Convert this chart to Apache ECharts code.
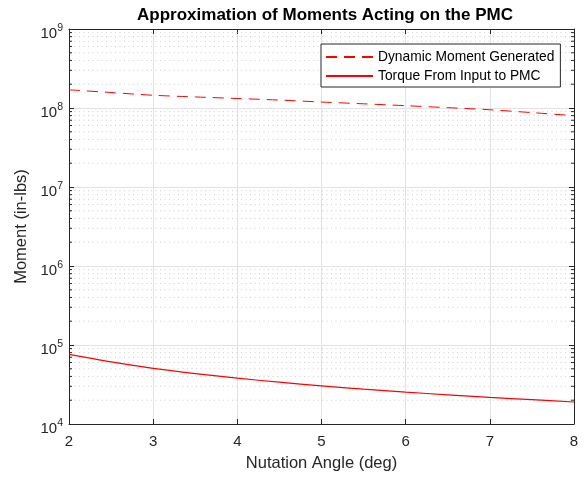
<!DOCTYPE html>
<html>
<head>
<meta charset="utf-8">
<script src="https://cdn.jsdelivr.net/npm/echarts@6/dist/echarts.min.js"></script>
<style>html,body{margin:0;padding:0;background:#fff}#c{width:587px;height:477px}</style>
</head>
<body>
<div id="c"></div>
<script>
var nutationAngle = [2, 2.5, 3, 3.5, 4, 4.5, 5, 5.5, 6, 6.5, 7, 7.5, 8];
var dynamicMoment = [1.70e8, 1.57e8, 1.45e8, 1.38e8, 1.32e8, 1.26e8, 1.19e8, 1.13e8, 1.07e8, 1.01e8, 9.5e7, 8.74e7, 8.0e7];
var torqueInput = [7.6e4, 6.1e4, 5.07e4, 4.35e4, 3.8e4, 3.38e4, 3.04e4, 2.76e4, 2.53e4, 2.34e4, 2.17e4, 2.03e4, 1.9e4];
var xTicks = [2, 3, 4, 5, 6, 7, 8];
var yDecades = [1e4, 1e5, 1e6, 1e7, 1e8, 1e9];
var minorMultipliers = [2, 3, 4, 5, 6, 7, 8, 9];

var FONT = "'Liberation Sans', Arial, Helvetica, sans-serif";
var TXT = '#262626';

var minorValues = [];
for (var i = 0; i < yDecades.length - 1; i++) {
  for (var j = 0; j < minorMultipliers.length; j++) {
    minorValues.push([xTicks[0], yDecades[i] * minorMultipliers[j]]);
  }
}

function zip(xs, ys) { return xs.map(function (x, k) { return [x, ys[k]]; }); }

var chart = echarts.init(document.getElementById('c'), null, {renderer: 'canvas'});
chart.setOption({
  animation: false,
  backgroundColor: '#fff',
  textStyle: {fontFamily: FONT},
  title: {
    text: 'Approximation of Moments Acting on the PMC',
    left: 320, top: 2, textAlign: 'center',
    textStyle: {fontFamily: FONT, fontSize: 17, fontWeight: 'bold', color: '#000'}
  },
  grid: {left: 69, right: 13, top: 29, bottom: 50, containLabel: false},
  legend: {
    data: ['Dynamic Moment Generated', 'Torque From Input to PMC'],
    orient: 'vertical', left: 321, top: 44,
    padding: [6, 6, 4, 4], itemGap: 5, itemWidth: 47, itemHeight: 15,
    borderColor: TXT, borderWidth: 1, backgroundColor: '#fff',
    itemStyle: {opacity: 0},
    textStyle: {fontFamily: FONT, fontSize: 13.8, color: '#000'}
  },
  xAxis: [{
    type: 'value', position: 'bottom', min: 2, max: 8, interval: 1,
    name: 'Nutation Angle (deg)', nameLocation: 'middle', nameGap: 31,
    nameTextStyle: {fontFamily: FONT, fontSize: 16.5, color: TXT},
    axisLine: {show: true, lineStyle: {color: TXT, width: 1}},
    axisTick: {show: true, inside: true, length: 5, lineStyle: {color: TXT}},
    axisLabel: {fontFamily: FONT, fontSize: 15, color: TXT, margin: 10},
    splitLine: {show: true, lineStyle: {color: '#e2e2e2', width: 1}}
  }, {
    type: 'value', position: 'top', min: 2, max: 8, interval: 1,
    axisLine: {show: true, lineStyle: {color: TXT, width: 1}},
    axisTick: {show: true, inside: true, length: 5, lineStyle: {color: TXT}},
    axisLabel: {show: false}, splitLine: {show: false}
  }],
  yAxis: [{
    type: 'log', logBase: 10, position: 'left', min: 1e4, max: 1e9,
    name: 'Moment (in-lbs)', nameLocation: 'middle', nameGap: 33,
    nameTextStyle: {fontFamily: FONT, fontSize: 16.5, color: TXT},
    axisLine: {show: true, lineStyle: {color: TXT, width: 1}},
    axisTick: {show: true, inside: true, length: 5, lineStyle: {color: TXT}},
    axisLabel: {
      margin: 6, color: TXT, padding: [9, 0, 0, 0],
      formatter: function (v) { return '{b|10}{s|' + Math.round(Math.log10(v)) + '}'; },
      rich: {
        b: {fontFamily: FONT, fontSize: 15, color: TXT},
        s: {fontFamily: FONT, fontSize: 10.5, color: TXT, padding: [0, 0, 10, 0]}
      }
    },
    splitLine: {show: true, lineStyle: {color: '#e2e2e2', width: 1}}
  }, {
    type: 'log', logBase: 10, position: 'right', min: 1e4, max: 1e9,
    axisLine: {show: true, lineStyle: {color: TXT, width: 1}},
    axisTick: {show: true, inside: true, length: 5, lineStyle: {color: TXT}},
    axisLabel: {show: false}, splitLine: {show: false}
  }],
  series: [{
    type: 'custom', name: 'minor', xAxisIndex: 0, yAxisIndex: 0, z: 1, silent: true,
    data: minorValues,
    renderItem: function (params, api) {
      var v = api.value(1);
      var p1 = api.coord([xTicks[0], v]);
      var p2 = api.coord([xTicks[xTicks.length - 1], v]);
      return {
        type: 'group',
        children: [
          {type: 'line', shape: {x1: p1[0] + 1, y1: p1[1], x2: p2[0] - 1, y2: p2[1]},
           style: {stroke: '#cdcdcd', lineWidth: 1, lineDash: [1, 3.5]}},
          {type: 'line', shape: {x1: p1[0], y1: p1[1], x2: p1[0] + 3, y2: p1[1]},
           style: {stroke: TXT, lineWidth: 1}},
          {type: 'line', shape: {x1: p2[0] - 3, y1: p2[1], x2: p2[0], y2: p2[1]},
           style: {stroke: TXT, lineWidth: 1}}
        ]
      };
    }
  }, {
    type: 'line', name: 'Dynamic Moment Generated', xAxisIndex: 0, yAxisIndex: 0,
    data: zip(nutationAngle, dynamicMoment), smooth: 0.3, symbol: 'none', z: 3,
    itemStyle: {color: '#ff0000'},
    lineStyle: {color: '#ff0000', width: 1, type: [11, 7]}
  }, {
    type: 'line', name: 'Torque From Input to PMC', xAxisIndex: 0, yAxisIndex: 0,
    data: zip(nutationAngle, torqueInput), smooth: 0.3, symbol: 'none', z: 3,
    itemStyle: {color: '#ff0000'},
    lineStyle: {color: '#ff0000', width: 1.2, type: 'solid'}
  }]
});
</script>
</body>
</html>
